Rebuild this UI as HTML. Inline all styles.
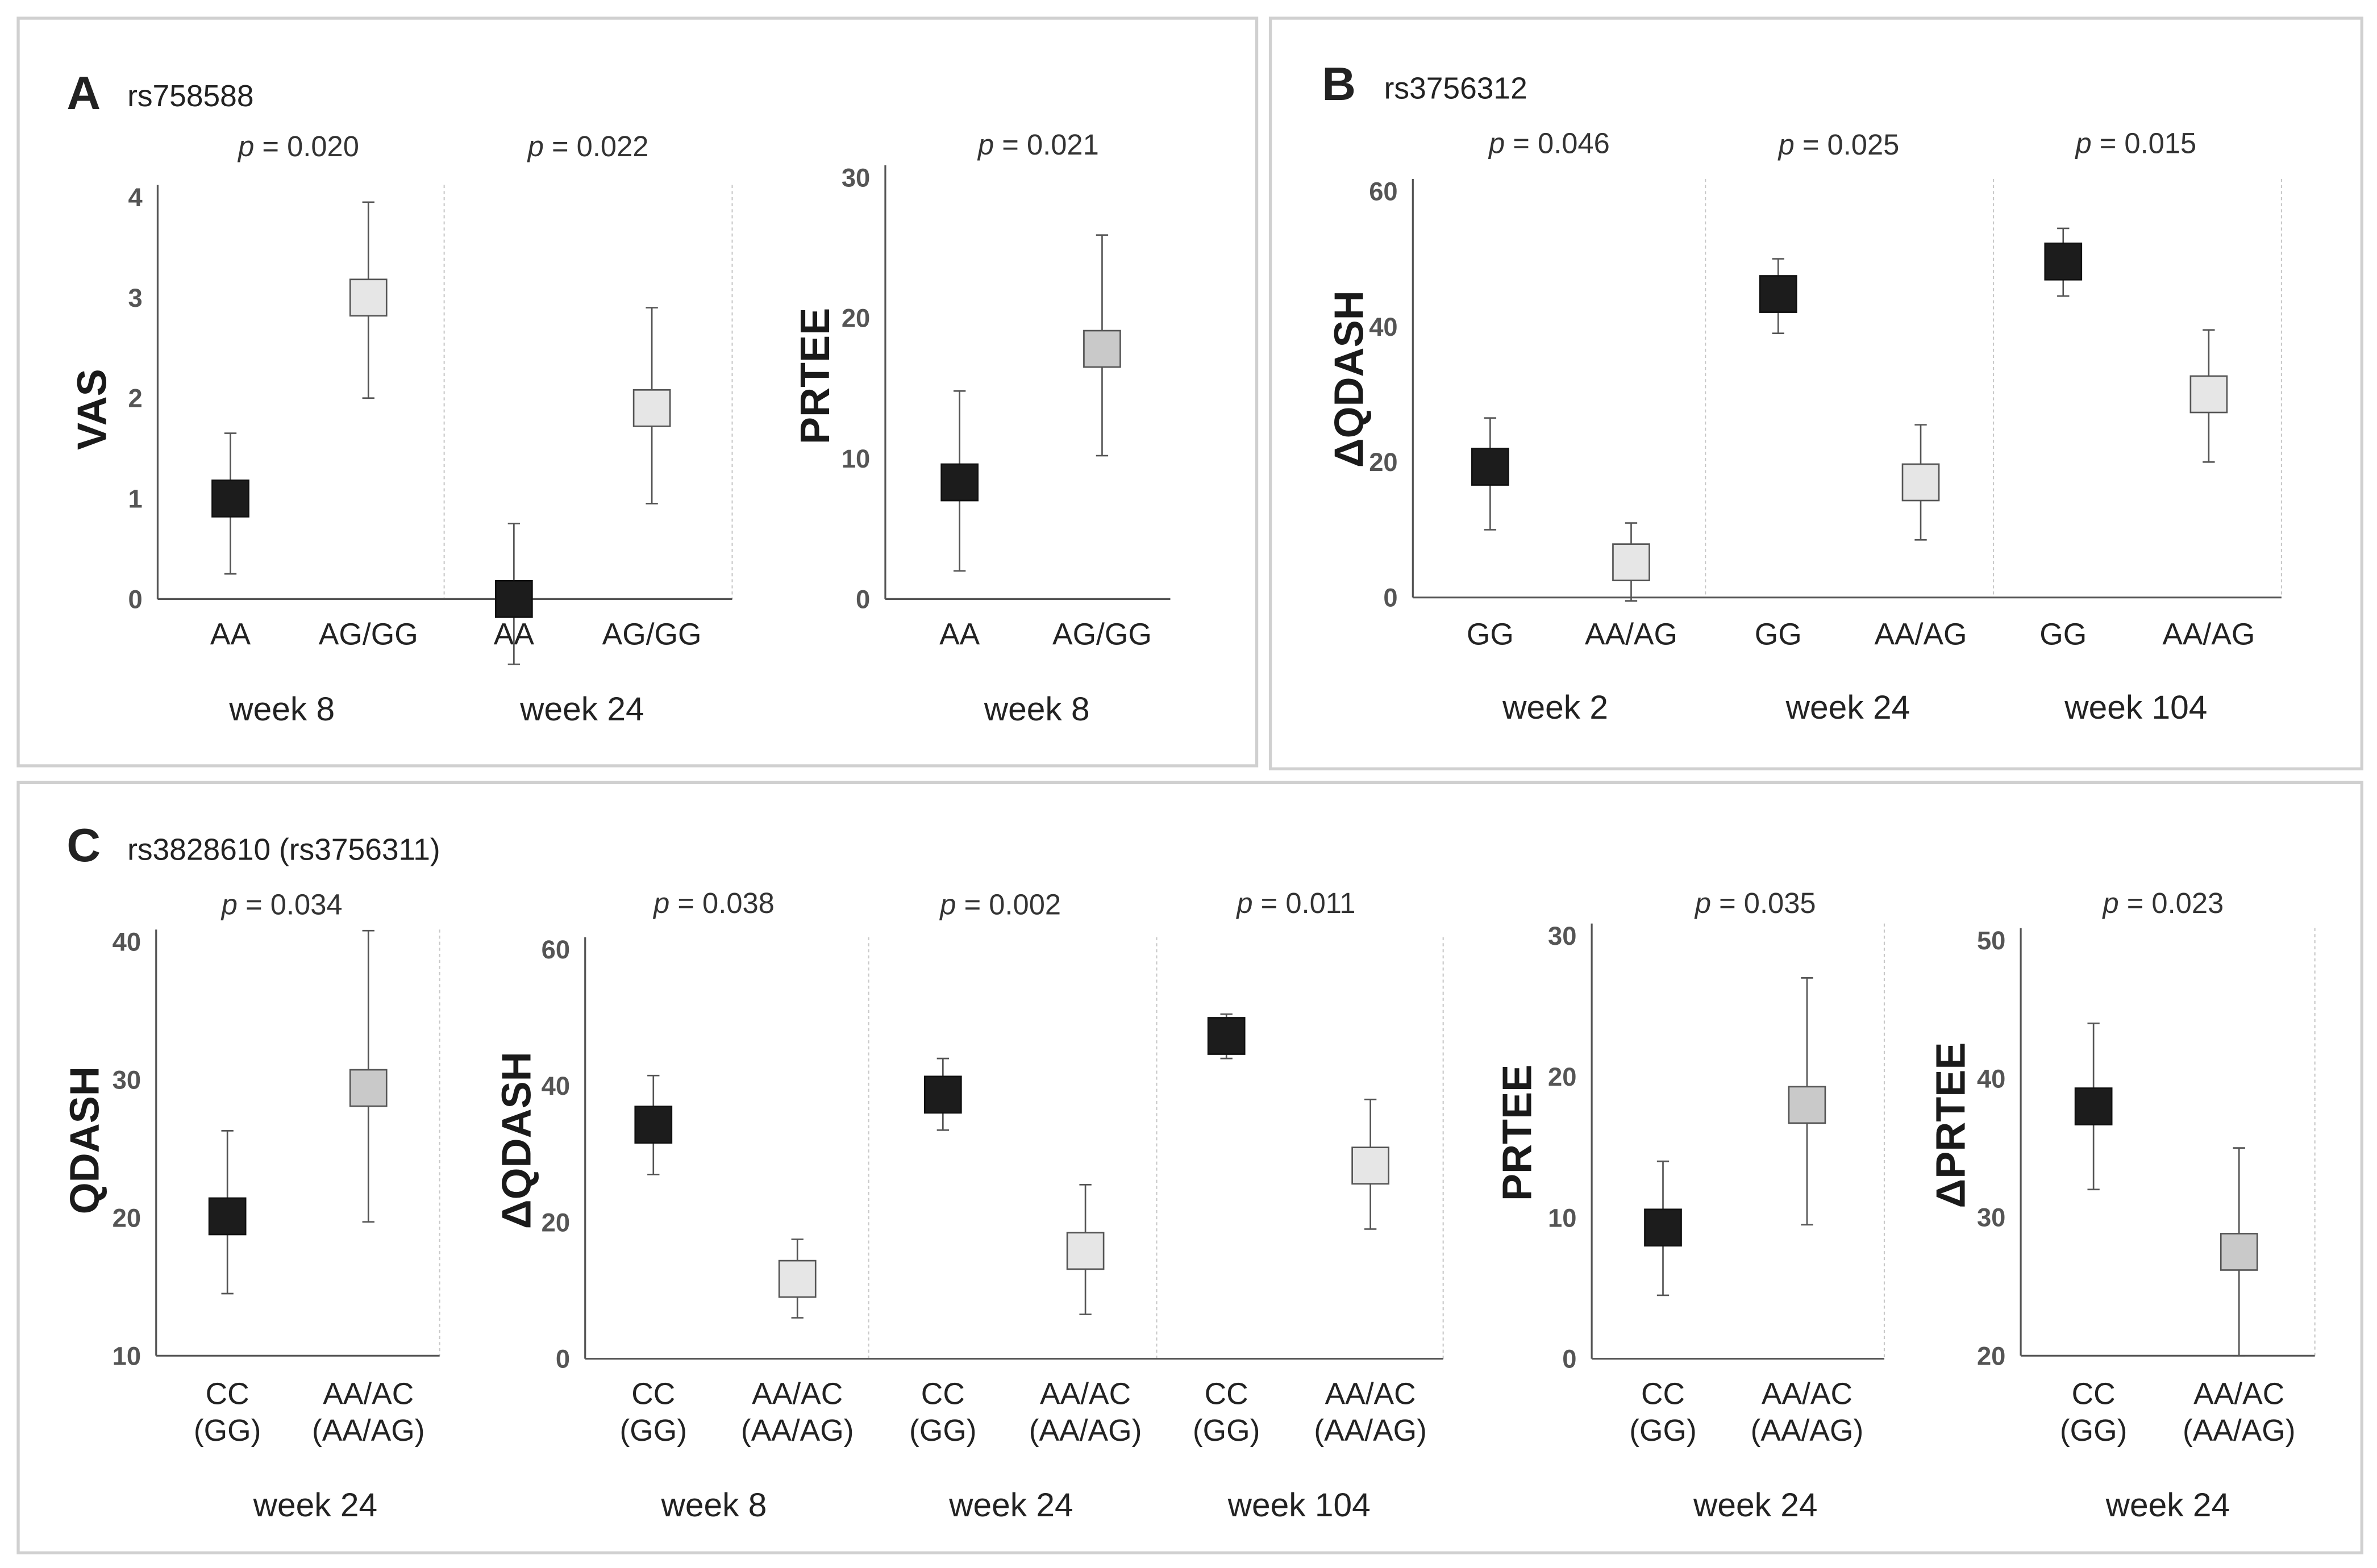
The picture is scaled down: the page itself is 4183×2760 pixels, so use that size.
<!DOCTYPE html>
<html><head><meta charset="utf-8">
<style>
html,body{margin:0;padding:0;background:#fff;}
svg{display:block;}
text{font-family:"Liberation Sans",sans-serif;}
</style></head>
<body>
<svg id="fig" width="4183" height="2760" viewBox="0 0 1568 1034" preserveAspectRatio="none" xmlns="http://www.w3.org/2000/svg">
<rect x="0" y="0" width="1568" height="1034" fill="#fff"/>
<rect x="12" y="12" width="817" height="493" fill="none" stroke="#d0d0d0" stroke-width="2"/>
<rect x="838" y="12" width="720" height="495" fill="none" stroke="#d0d0d0" stroke-width="2"/>
<rect x="12" y="516" width="1546" height="508" fill="none" stroke="#d0d0d0" stroke-width="2"/>
<text x="44" y="72" font-size="31" font-weight="bold" fill="#222">A</text>
<text x="84" y="70" font-size="20" fill="#222">rs758588</text>
<text x="872" y="66" font-size="31" font-weight="bold" fill="#222">B</text>
<text x="913" y="65" font-size="20" fill="#222">rs3756312</text>
<text x="44" y="568" font-size="31" font-weight="bold" fill="#222">C</text>
<text x="84" y="567" font-size="20" fill="#222">rs3828610 (rs3756311)</text>
<g id="charts"></g>
</svg>
<script>
// ---- data ----
const vasValues = [1.0, 3.0, 0.0, 1.9];
const vasLo = [0.25, 2.0, -0.65, 0.95];
const vasHi = [1.65, 3.95, 0.75, 2.9];
const prteeAValues = [8.3, 17.8];
const prteeALo = [2.0, 10.2];
const prteeAHi = [14.8, 25.9];
const dqashBValues = [19.3, 5.2, 44.8, 17.0, 49.6, 30.0];
const dqashBLo = [10, -0.5, 39, 8.5, 44.5, 20];
const dqashBHi = [26.5, 11, 50, 25.5, 54.5, 39.5];
const qdashCValues = [20.1, 29.4];
const qdashCLo = [14.5, 19.7];
const qdashCHi = [26.3, 40.8];
const dqashCValues = [34.3, 11.7, 38.7, 15.8, 47.3, 28.3];
const dqashCLo = [27, 6, 33.5, 6.5, 44, 19];
const dqashCHi = [41.5, 17.5, 44, 25.5, 50.5, 38];
const prteeCValues = [9.3, 18.0];
const prteeCLo = [4.5, 9.5];
const prteeCHi = [14, 27];
const dprteeValues = [38, 27.5];
const dprteeLo = [32, 20];
const dprteeHi = [44, 35];
const catsA = ["AA", "AG/GG"];
const catsB = ["GG", "AA/AG"];
const catsC = ["CC|(GG)", "AA/AC|(AA/AG)"];

const BLACK="#1c1c1c", LIGHT="#e6e6e6", GRAY="#c9c9c9";
const panels = [
 {name:"vas", title:"VAS", tx:60, ty:270, ax:104, right:483, yMin:0, yMax:4, pMin:395, pMax:130, ticks:[0,1,2,3,4],
  vals:vasValues, lo:vasLo, hi:vasHi, xs:[152,243,339,430], cats:catsA, light:LIGHT, divs:[293,483],
  ps:[["0.020",197,97],["0.022",388,97]], weeks:[["week 8",186],["week 24",384]], catY:418, weekY:467},
 {name:"prtee-a", title:"PRTEE", tx:537, ty:248, ax:584, right:772, yMin:0, yMax:30, pMin:395, pMax:117, ticks:[0,10,20,30],
  vals:prteeAValues, lo:prteeALo, hi:prteeAHi, xs:[633,727], cats:catsA, light:GRAY, divs:[],
  ps:[["0.021",685,96]], weeks:[["week 8",684]], catY:418, weekY:467},
 {name:"dqash-b", title:"ΔQDASH", tx:889, ty:250, ax:932, right:1505, yMin:0, yMax:60, pMin:394, pMax:126, ticks:[0,20,40,60],
  vals:dqashBValues, lo:dqashBLo, hi:dqashBHi, xs:[983,1076,1173,1267,1361,1457], cats:catsB, light:LIGHT, divs:[1125,1315,1505],
  ps:[["0.046",1022,95],["0.025",1213,96],["0.015",1409,95]], weeks:[["week 2",1026],["week 24",1219],["week 104",1409]], catY:418, weekY:466},
 {name:"qdash-c", title:"QDASH", tx:55, ty:752, ax:103, right:290, yMin:10, yMax:40, pMin:894, pMax:621, ticks:[10,20,30,40],
  vals:qdashCValues, lo:qdashCLo, hi:qdashCHi, xs:[150,243], cats:catsC, light:GRAY, divs:[290],
  ps:[["0.034",186,597]], weeks:[["week 24",208]], catY:919, weekY:992},
 {name:"dqash-c", title:"ΔQDASH", tx:340, ty:752, ax:386, right:952, yMin:0, yMax:60, pMin:896, pMax:626, ticks:[0,20,40,60],
  vals:dqashCValues, lo:dqashCLo, hi:dqashCHi, xs:[431,526,622,716,809,904], cats:catsC, light:LIGHT, divs:[573,763,952],
  ps:[["0.038",471,596],["0.002",660,597],["0.011",855,596]], weeks:[["week 8",471],["week 24",667],["week 104",857]], catY:919, weekY:992},
 {name:"prtee-c", title:"PRTEE", tx:1000, ty:747, ax:1050, right:1243, yMin:0, yMax:30, pMin:896, pMax:617, ticks:[0,10,20,30],
  vals:prteeCValues, lo:prteeCLo, hi:prteeCHi, xs:[1097,1192], cats:catsC, light:GRAY, divs:[1243],
  ps:[["0.035",1158,596]], weeks:[["week 24",1158]], catY:919, weekY:992},
 {name:"dprtee-c", title:"ΔPRTEE", tx:1286, ty:742, ax:1333, right:1527, yMin:20, yMax:50, pMin:894, pMax:620, ticks:[20,30,40,50],
  vals:dprteeValues, lo:dprteeLo, hi:dprteeHi, xs:[1381,1477], cats:catsC, light:GRAY, divs:[1527],
  ps:[["0.023",1427,596]], weeks:[["week 24",1430]], catY:919, weekY:992}
];
const NS="http://www.w3.org/2000/svg";
const root=document.getElementById("charts");
function mk(tag, attrs, parent, txt){
  const e=document.createElementNS(NS,tag);
  for(const k in attrs) e.setAttribute(k, attrs[k]);
  if(txt!==undefined) e.textContent=txt;
  (parent||root).appendChild(e); return e;
}
panels.forEach(p=>{
  const g=mk("g",{});
  
  
  const Y=v=>p.pMin+(v-p.yMin)/(p.yMax-p.yMin)*(p.pMax-p.pMin);
  p.divs.forEach(x=>{
    const l=mk("line",{x1:x,x2:x,y1:p.pMax-8,y2:p.pMin,stroke:"#c8c8c8","stroke-width":0.8,"stroke-dasharray":"2,2"},g);
    
    
  });
  const ya=mk("line",{x1:p.ax,x2:p.ax,y1:p.pMax-8,y2:p.pMin,stroke:"#555","stroke-width":1.2},g);
  
  
  const xa=mk("line",{x1:p.ax,x2:p.right,y1:p.pMin,y2:p.pMin,stroke:"#555","stroke-width":1.2},g);
  
  
  p.ticks.forEach(t=>{
    const tl=mk("text",{x:p.ax-10,y:Y(t)+6,"font-size":17,"font-weight":"bold",fill:"#555","text-anchor":"end"},g,String(t));
    
    
  });
  const tt=mk("text",{x:0,y:0,"font-size":27,"font-weight":"bold",fill:"#1a1a1a","text-anchor":"middle",transform:`translate(${p.tx+10},${p.ty}) rotate(-90)`},g,p.title);
  
  
  p.ps.forEach(([v,x,y])=>{
    const t=mk("text",{x:x,y:y+6,"font-size":19,fill:"#333","text-anchor":"middle"},g);
    
    
    mk("tspan",{"font-style":"italic"},t,"p");
    mk("tspan",{},t," = "+v);
  });
  p.weeks.forEach(([w,x])=>{
    const t=mk("text",{x:x,y:p.weekY+8,"font-size":22,fill:"#222","text-anchor":"middle"},g,w);
    
    
  });
  p.vals.forEach((v,i)=>{
    const x=p.xs[i];
    const cat=p.cats[i%2].split("|");
    cat.forEach((c,j)=>{
      const t=mk("text",{x:x,y:p.catY+7+j*24,"font-size":20,fill:"#222","text-anchor":"middle"},g,c);
      
      
    });
    const yl=Y(p.lo[i]), yh=Y(p.hi[i]);
    const eb=mk("path",{d:`M${x},${yl}V${yh}M${x-4},${yl}H${x+4}M${x-4},${yh}H${x+4}`,stroke:"#555","stroke-width":1,fill:"none"},g);
    
    
    const s=24;
    const r=mk("rect",{x:x-s/2,y:Y(v)-s/2,width:s,height:s,fill:i%2===0?BLACK:p.light,stroke:i%2===0?"#111":"#555","stroke-width":1},g);
    
    
  });
});
</script>
</body></html>
